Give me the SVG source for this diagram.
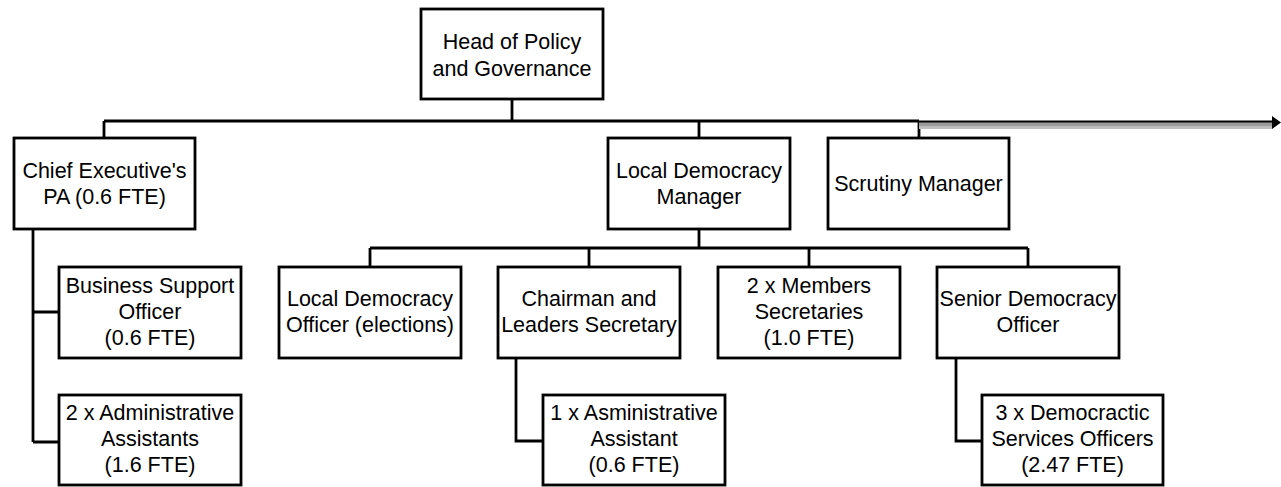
<svg xmlns="http://www.w3.org/2000/svg" width="1281" height="487" viewBox="0 0 1281 487">
<style>
  .box{fill:#fff;stroke:#000;stroke-width:2.8}
  .t{font-family:"Liberation Sans",Arial,sans-serif;font-size:21.5px;fill:#000;text-anchor:middle}
  .c{fill:none;stroke:#000;stroke-width:2.8}
</style>
<rect width="1281" height="487" fill="#fff"/>
<g id="connectors">
  <path class="c" d="M512 99V121M104 121H919M104 121V138M699 121V138M919 121V138"/>
  <path class="c" d="M699 229V248M370 248H1028M370 248V267M589 248V267M809 248V267M1028 248V267"/>
  <path class="c" d="M33 229V442M33 312H59M33 442H59"/>
  <path class="c" d="M516 358V441H543"/>
  <path class="c" d="M956 358V441H982"/>
  <g id="arrow">
    <rect x="919" y="122" width="354" height="7" fill="#bdbdbd"/>
    <rect x="919" y="122" width="354" height="4" fill="#9a9a9a"/>
    <line x1="919" y1="121.5" x2="1273" y2="121.5" stroke="#000" stroke-width="2"/>
    <polygon points="1272,116 1281,122.5 1272,129" fill="#000"/>
  </g>
</g>
<g id="head"><rect class="box" x="421" y="9" width="182" height="90"/>
  <text class="t" x="512" y="49">Head of Policy</text><text class="t" x="512" y="76">and Governance</text></g>
<g id="chief"><rect class="box" x="14" y="138" width="181" height="91"/>
  <text class="t" x="104.5" y="178">Chief Executive's</text><text class="t" x="104.5" y="204">PA (0.6 FTE)</text></g>
<g id="ldm"><rect class="box" x="608" y="138" width="182" height="91"/>
  <text class="t" x="699" y="178">Local Democracy</text><text class="t" x="699" y="204">Manager</text></g>
<g id="scrutiny"><rect class="box" x="828" y="138" width="181" height="91"/>
  <text class="t" x="918.5" y="191">Scrutiny Manager</text></g>
<g id="bso"><rect class="box" x="59" y="267" width="182" height="91"/>
  <text class="t" x="150" y="293">Business Support</text><text class="t" x="150" y="319">Officer</text><text class="t" x="150" y="345">(0.6 FTE)</text></g>
<g id="ldo"><rect class="box" x="279" y="267" width="182" height="91"/>
  <text class="t" x="370" y="306">Local Democracy</text><text class="t" x="370" y="332">Officer (elections)</text></g>
<g id="chairman"><rect class="box" x="498" y="267" width="182" height="91"/>
  <text class="t" x="589" y="306">Chairman and</text><text class="t" x="589" y="332">Leaders Secretary</text></g>
<g id="members"><rect class="box" x="718" y="267" width="182" height="91"/>
  <text class="t" x="809" y="293">2 x Members</text><text class="t" x="809" y="319">Secretaries</text><text class="t" x="809" y="345">(1.0 FTE)</text></g>
<g id="senior"><rect class="box" x="937" y="267" width="182" height="91"/>
  <text class="t" x="1028" y="306">Senior Democracy</text><text class="t" x="1028" y="332">Officer</text></g>
<g id="admin2"><rect class="box" x="59" y="395" width="182" height="90"/>
  <text class="t" x="150" y="420">2 x Administrative</text><text class="t" x="150" y="446">Assistants</text><text class="t" x="150" y="472">(1.6 FTE)</text></g>
<g id="admin1"><rect class="box" x="543" y="395" width="182" height="90"/>
  <text class="t" x="634" y="420">1 x Asministrative</text><text class="t" x="634" y="446">Assistant</text><text class="t" x="634" y="472">(0.6 FTE)</text></g>
<g id="dso"><rect class="box" x="982" y="395" width="181" height="90"/>
  <text class="t" x="1072.5" y="420">3 x Democractic</text><text class="t" x="1072.5" y="446">Services Officers</text><text class="t" x="1072.5" y="472">(2.47 FTE)</text></g>
</svg>
